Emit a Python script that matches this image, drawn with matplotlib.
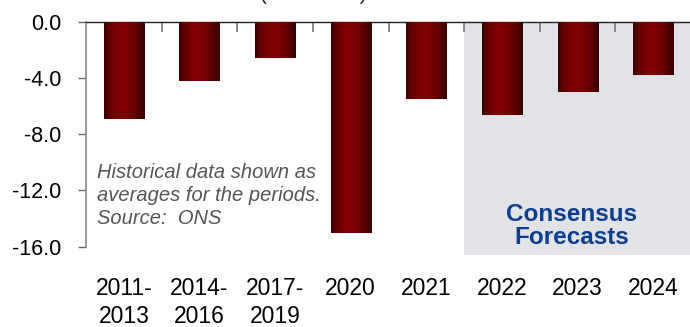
import matplotlib
matplotlib.use('Agg')
import matplotlib.pyplot as plt
import numpy as np

# budget balance, % of GDP (historical periods averaged)
periods = ['2011-\n2013', '2014-\n2016', '2017-\n2019', '2020', '2021',
           '2022', '2023', '2024']
balance = [-6.9, -4.2, -2.6, -15.0, -5.5, -6.6, -5.0, -3.8]
n_actual = 5  # first forecast year is index 5
y_ticks = [0.0, -4.0, -8.0, -12.0, -16.0]

plt.rcParams['font.family'] = ['Liberation Sans', 'DejaVu Sans']


def gradient_bar(ax, bar):
    # dark edges fading into a bright maroon centre
    pos = np.linspace(0, 1, 64)
    shade = np.interp(pos, [0.0, 0.12, 0.35, 0.55, 0.8, 1.0],
                      [0.22, 0.38, 0.5, 0.5, 0.38, 0.2])
    rgb = np.zeros((1, 64, 3))
    rgb[0, :, 0] = shade
    x0, y0 = bar.get_x(), bar.get_y()
    w, h = bar.get_width(), bar.get_height()
    im = ax.imshow(rgb, extent=(x0, x0 + w, y0, y0 + h), aspect='auto',
                   interpolation='bilinear', zorder=3)
    im.set_clip_path(bar)


fig = plt.figure(figsize=(6.9, 3.27), dpi=100)
ax = fig.add_axes([86 / 690, 72 / 327, 605 / 690, 233 / 327])

x = np.arange(len(periods))
ax.axvspan(n_actual - 0.5, len(periods) - 0.5, color='#e2e3e6', lw=0, zorder=0)
bars = ax.bar(x, balance, width=0.53, color='none', lw=0, zorder=2)
for b in bars:
    gradient_bar(ax, b)

ax.set_xlim(-0.5, len(periods) - 0.5)
ax.set_ylim(-16.6, 0)

for s in ['right', 'bottom']:
    ax.spines[s].set_visible(False)
ax.spines['top'].set_color('#222222')
ax.spines['top'].set_linewidth(1.0)
ax.spines['left'].set_color('#888888')
ax.spines['left'].set_linewidth(1.2)
ax.spines['left'].set_bounds(-16, 0)

ax.set_yticks(y_ticks)
ax.set_yticklabels(['%.1f' % v for v in y_ticks], fontsize=15.5)
ax.tick_params(axis='y', length=6, width=1, color='#666666', pad=12)

ax.set_xticks(x)
ax.set_xticklabels(periods, fontsize=16.5, linespacing=1.25, va='top')
ax.tick_params(axis='x', length=0, pad=16)

# category boundary ticks hanging from the zero line
top = ax.secondary_xaxis('top')
top.set_xticks(x[:-1] + 0.5)
top.set_xticklabels([])
top.tick_params(direction='in', length=7, width=1.2, color='#777777')
top.spines['top'].set_visible(False)

ax.text(-0.36, -10.05, 'Historical data shown as\naverages for the periods.\nSource:  ONS',
        fontsize=14.5, style='italic', color='#555555', ha='left', va='top',
        linespacing=1.25, zorder=1)
ax.text(5.92, -14.5, 'Consensus\nForecasts', fontsize=17.5, fontweight='bold',
        color='#0b3e8f', ha='center', va='center', linespacing=1.0)

fig.text(313 / 690, 1.0, '(% of GDP)', fontsize=15, color='#222222',
         ha='center', va='baseline')

fig.savefig('out.png', dpi=100)
